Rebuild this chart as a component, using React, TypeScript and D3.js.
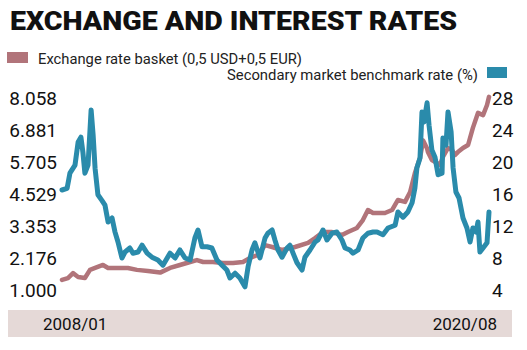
import { scaleLinear, line as d3_line } from "d3"

// x = months since 2008/01 (0 … 151 = 2020/08)
const basketMonth = [0, 2.1, 3.9, 5.7, 8.1, 9.9, 11.7, 14.5, 16.3, 19.8, 23.3, 26.5, 30.4, 34.7, 38.2, 41.7, 45.3, 47.7, 49.9, 53.4, 56.9, 60.5, 64, 66.5, 69.3, 71.8, 74.3, 77.8, 82.4, 87, 89.5, 92.3, 95.5, 99, 101.1, 104.3, 106.4, 108.2, 110, 114.2, 116.7, 118.8, 121.3, 123.1, 124.8, 126.6, 127.7, 129.1, 129.4, 130.8, 132.6, 133.7, 134.7, 136.5, 137.9, 139, 140, 141.8, 143.6, 145.3, 147.1, 148.9, 150.3, 151]
const basketValue = [1.37, 1.44, 1.62, 1.48, 1.44, 1.74, 1.81, 1.92, 1.81, 1.81, 1.81, 1.74, 1.7, 1.64, 1.81, 1.92, 2.03, 2.1, 2.03, 2.03, 1.99, 1.99, 2.03, 2.18, 2.29, 2.65, 2.58, 2.47, 2.58, 2.73, 2.91, 3.13, 3.13, 3.02, 3.13, 3.28, 3.57, 3.94, 3.83, 3.83, 3.94, 4.31, 4.24, 4.6, 5.3, 5.85, 6.5, 6.2, 6.07, 5.78, 5.67, 5.6, 5.89, 6.22, 6.15, 5.96, 6.07, 6.22, 6.33, 6.96, 7.51, 7.43, 7.8, 8.1]

const rateMonth = [0, 1.8, 2.8, 4.6, 5.7, 6.7, 7.4, 8.1, 9.2, 10.3, 11, 11.7, 12.7, 14.1, 15.2, 16.3, 17.7, 18.7, 19.8, 21.2, 22.3, 24, 25.1, 26.9, 28.3, 30.1, 31.8, 33.9, 35.7, 38.2, 40, 41.7, 43.5, 45.3, 47, 48.1, 49.5, 51.3, 53, 54.8, 56.6, 58.3, 59.4, 61.2, 62.9, 64.7, 65.8, 67.2, 68.2, 70, 71.8, 72.8, 74.3, 75.3, 76.4, 77.8, 79.6, 80.6, 81.7, 83.1, 84.9, 85.9, 87.7, 89.5, 90.5, 92.3, 93.7, 95.5, 97.2, 99, 100.1, 101.8, 102.9, 104.7, 106.4, 108.2, 110, 111.4, 113.5, 115.3, 117.8, 118.8, 120.6, 122.3, 123.8, 124.8, 125.5, 126.6, 127.3, 128, 129.1, 129.8, 130.8, 131.9, 133, 134.4, 134.7, 135.8, 136.5, 137.6, 138.3, 139.3, 140.4, 141.8, 143.2, 144.3, 145.3, 146.4, 147.1, 147.8, 148.9, 150.3, 151]
const rateValue = [16.5, 16.7, 18.6, 19.6, 22.5, 23.1, 21.2, 18.6, 19.6, 26.5, 23.4, 19.2, 15.9, 15.2, 14.6, 12.5, 13, 11.3, 10, 8, 8.75, 9.25, 8.6, 8.75, 9.6, 8.6, 8.1, 7.75, 7.1, 8.6, 8, 9, 8, 7.75, 10.5, 11.5, 9.4, 9.4, 9.25, 7.75, 7.1, 6.5, 5.5, 6.1, 5.5, 4.4, 6.9, 9, 9.9, 8, 10.5, 11.1, 11.5, 10.25, 9, 8.1, 9.25, 9.6, 8.6, 7.4, 6.5, 8.1, 9, 10, 10.25, 11.5, 10.25, 11.1, 11.25, 10.25, 9.25, 9, 8.6, 9, 10.5, 11.1, 11.25, 11.25, 10.9, 11.75, 12.1, 13.75, 13.1, 13.75, 14.9, 16.75, 19.25, 20.5, 26.25, 25, 27.4, 24.6, 21.5, 20.6, 18.4, 18.6, 23, 22.1, 26.25, 23.75, 19.25, 16.25, 15.5, 13, 11.75, 10, 11.75, 11.25, 12.5, 8.75, 9.25, 9.9, 13.75]

const basketTicks = [1.0, 2.176, 3.353, 4.529, 5.705, 6.881, 8.058]
const rateTicks = [4, 8, 12, 16, 20, 24, 28]
const periodLabels = ["2008/01", "2020/08"]

const BASKET = "#b1747a"
const RATE = "#2a8bab"
const FONT = "Roboto, 'DejaVu Sans', sans-serif"

export default function App() {
  const x = scaleLinear().domain([0, 151]).range([62, 489])
  const yLeft = scaleLinear().domain([1, 8.058]).range([290, 98])
  const yRight = scaleLinear().domain([4, 28]).range([290, 98])

  const basketPath = d3_line<number>()
    .x((_, i) => x(basketMonth[i]))
    .y((d) => yLeft(d))(basketValue)
  const ratePath = d3_line<number>()
    .x((_, i) => x(rateMonth[i]))
    .y((d) => yRight(d))(rateValue)

  return (
    <svg
      width={527}
      height={350}
      style={{ position: "absolute", left: 0, top: 0, background: "#fff" }}
      fontFamily={FONT}
    >
      {/* 標題 */}
      <text x={10} y={30} fontSize={25} fontWeight={900} fill="#111" textLength={447} lengthAdjust="spacingAndGlyphs">
        EXCHANGE AND INTEREST RATES
      </text>

      {/* 圖例 */}
      <rect x={7} y={52} width={21} height={11} fill={BASKET} />
      <text x={38} y={64} fontSize={15} fill="#222" textLength={264} lengthAdjust="spacingAndGlyphs">
        Exchange rate basket (0,5 USD+0,5 EUR)
      </text>
      <text x={227} y={80} fontSize={15} fill="#222" textLength={251} lengthAdjust="spacingAndGlyphs">
        Secondary market benchmark rate (%)
      </text>
      <rect x={487} y={67} width={20} height={11} fill={RATE} />

      {/* 左軸 */}
      {basketTicks.map((v, i) => (
        <text key={i} x={57} y={yLeft(v)} dy=".35em" textAnchor="end" fontSize={19} fill="#111">
          {v.toFixed(3)}
        </text>
      ))}

      {/* 右軸 */}
      {rateTicks.map((v, i) => (
        <text key={i} x={492} y={yRight(v)} dy=".35em" fontSize={19} fill="#111">
          {v}
        </text>
      ))}

      {/* 線 */}
      <path d={basketPath ?? ""} fill="none" stroke={BASKET} strokeWidth={4.5} strokeLinejoin="round" strokeLinecap="round" />
      <path d={ratePath ?? ""} fill="none" stroke={RATE} strokeWidth={5} strokeLinejoin="round" strokeLinecap="round" />

      {/* 底部時間條 */}
      <rect x={8} y={310} width={504} height={27} fill="#e5d9d7" />
      <text x={43} y={330} fontSize={17} fill="#111">{periodLabels[0]}</text>
      <text x={497} y={330} fontSize={17} fill="#111" textAnchor="end">{periodLabels[1]}</text>
    </svg>
  )
}
